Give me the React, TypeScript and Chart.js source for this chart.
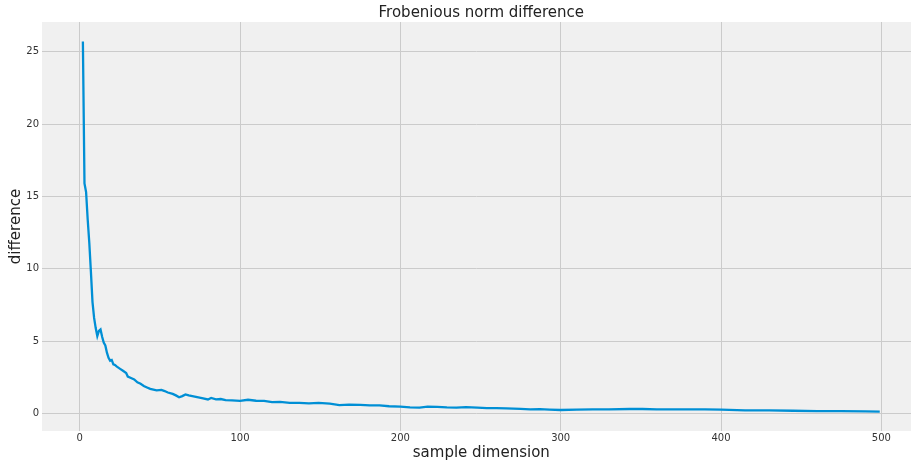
import React, { useEffect, useRef } from "react";
import { Chart, registerables } from "chart.js";

Chart.register(...registerables);

const sampleDims: number[] = [
  2, 3, 4, 5, 6, 7, 8, 9, 10, 11, 12, 13, 14, 15, 16, 17, 18, 19, 20, 21, 22, 23, 25, 27, 29, 30,
  32, 34, 36, 38, 40, 42, 44, 46, 48, 51, 53, 55, 58, 60, 62, 64, 66, 68, 71, 74, 77, 80, 82, 85,
  88, 91, 95, 100, 105, 110, 115, 120, 125, 131, 137, 143, 149, 156, 162, 168, 175, 181, 187, 193,
  200, 206, 212, 217, 223, 229, 235, 241, 248, 254, 260, 266, 275, 281, 287, 293, 300, 310, 320,
  330, 343, 351, 360, 375, 390, 400, 415, 430, 445, 460, 475, 490, 499,
];

const differences: number[] = [
  25.7, 15.9, 15.3, 13.4, 11.8, 9.8, 7.7, 6.6, 5.9, 5.35, 5.7, 5.8, 5.3, 4.9, 4.7, 4.2, 3.85, 3.65,
  3.7, 3.4, 3.35, 3.25, 3.1, 2.95, 2.8, 2.55, 2.45, 2.35, 2.15, 2.05, 1.9, 1.8, 1.7, 1.65, 1.6,
  1.63, 1.55, 1.45, 1.35, 1.25, 1.12, 1.2, 1.32, 1.25, 1.19, 1.12, 1.05, 0.97, 1.07, 0.98, 1.0,
  0.92, 0.91, 0.87, 0.95, 0.88, 0.87, 0.78, 0.8, 0.74, 0.73, 0.7, 0.73, 0.68, 0.58, 0.61, 0.6,
  0.56, 0.56, 0.5, 0.48, 0.42, 0.41, 0.48, 0.46, 0.42, 0.41, 0.44, 0.41, 0.37, 0.37, 0.36, 0.32,
  0.29, 0.3, 0.27, 0.24, 0.26, 0.29, 0.28, 0.31, 0.31, 0.29, 0.28, 0.29, 0.27, 0.22, 0.22, 0.19,
  0.17, 0.16, 0.14, 0.13,
];

const xTickValues: number[] = [0, 100, 200, 300, 400, 500];
const yTickValues: number[] = [0, 5, 10, 15, 20, 25];

const titleText = "Frobenious norm difference";
const xLabel = "sample dimension";
const yLabel = "difference";

const FONT = "'DejaVu Sans', sans-serif";

const plotBg = {
  id: "plotBg",
  beforeDraw(chart: any) {
    const { ctx, chartArea } = chart;
    ctx.save();
    ctx.fillStyle = "#ffffff";
    ctx.fillRect(0, 0, chart.width, chart.height);
    ctx.fillStyle = "#f0f0f0";
    ctx.fillRect(chartArea.left, chartArea.top, chartArea.right - chartArea.left, chartArea.bottom - chartArea.top);
    ctx.restore();
  },
};

// Titles centred on the (slightly wider, cropped) matplotlib axes: axes span x range -22.85..523.85
const axisTexts = {
  id: "axisTexts",
  afterDraw(chart: any) {
    const { ctx } = chart;
    const xs = chart.scales.x;
    const cx = (xs.getPixelForValue(-22.85) + xs.getPixelForValue(523.85)) / 2;
    const ys = chart.scales.y;
    const cy = (chart.chartArea.top + chart.chartArea.bottom) / 2;
    ctx.save();
    ctx.fillStyle = "#222222";
    ctx.font = `15px ${FONT}`;
    ctx.textAlign = "center";
    ctx.textBaseline = "middle";
    ctx.fillText(titleText, cx, 13);
    ctx.fillText(xLabel, cx, 453);
    ctx.translate(16, cy);
    ctx.rotate(-Math.PI / 2);
    ctx.fillText(yLabel, 0, 0);
    ctx.restore();
    void ys;
  },
};

export default function App() {
  const ref = useRef<HTMLCanvasElement | null>(null);

  useEffect(() => {
    if (!ref.current) return;
    const points = sampleDims.map((x, i) => ({ x, y: differences[i] }));
    const chart = new Chart(ref.current, {
      type: "line",
      data: {
        datasets: [
          {
            data: points,
            borderColor: "#008fd5",
            borderWidth: 2.3,
            pointRadius: 0,
            tension: 0,
            fill: false,
          },
        ],
      },
      options: {
        animation: false,
        responsive: false,
        layout: { padding: { top: 22, left: 0, right: 0, bottom: 0 } },
        plugins: {
          legend: { display: false },
          tooltip: { enabled: false },
          title: { display: false },
        },
        scales: {
          x: {
            type: "linear",
            min: -23.5,
            max: 518.5,
            afterBuildTicks: (s: any) => {
              s.ticks = xTickValues.map((v) => ({ value: v }));
            },
            afterFit: (s: any) => {
              s.height = 33;
            },
            ticks: {
              includeBounds: false,
              padding: 1,
              color: "#333333",
              font: { family: FONT, size: 10 },
              maxRotation: 0,
            },
            grid: { color: "#cbcbcb", lineWidth: 1, drawTicks: false },
            border: { display: false },
          },
          y: {
            type: "linear",
            min: -1.21,
            max: 27.05,
            afterBuildTicks: (s: any) => {
              s.ticks = yTickValues.map((v) => ({ value: v }));
            },
            afterFit: (s: any) => {
              s.width = 42;
            },
            ticks: {
              includeBounds: false,
              padding: 3,
              color: "#333333",
              font: { family: FONT, size: 10 },
            },
            grid: { color: "#cbcbcb", lineWidth: 1, drawTicks: false },
            border: { display: false },
          },
        },
      },
      plugins: [plotBg, axisTexts],
    });
    return () => chart.destroy();
  }, []);

  return (
    <div style={{ position: "absolute", left: 0, top: 0, width: 911, height: 464 }}>
      <canvas ref={ref} width={911} height={464} />
    </div>
  );
}
